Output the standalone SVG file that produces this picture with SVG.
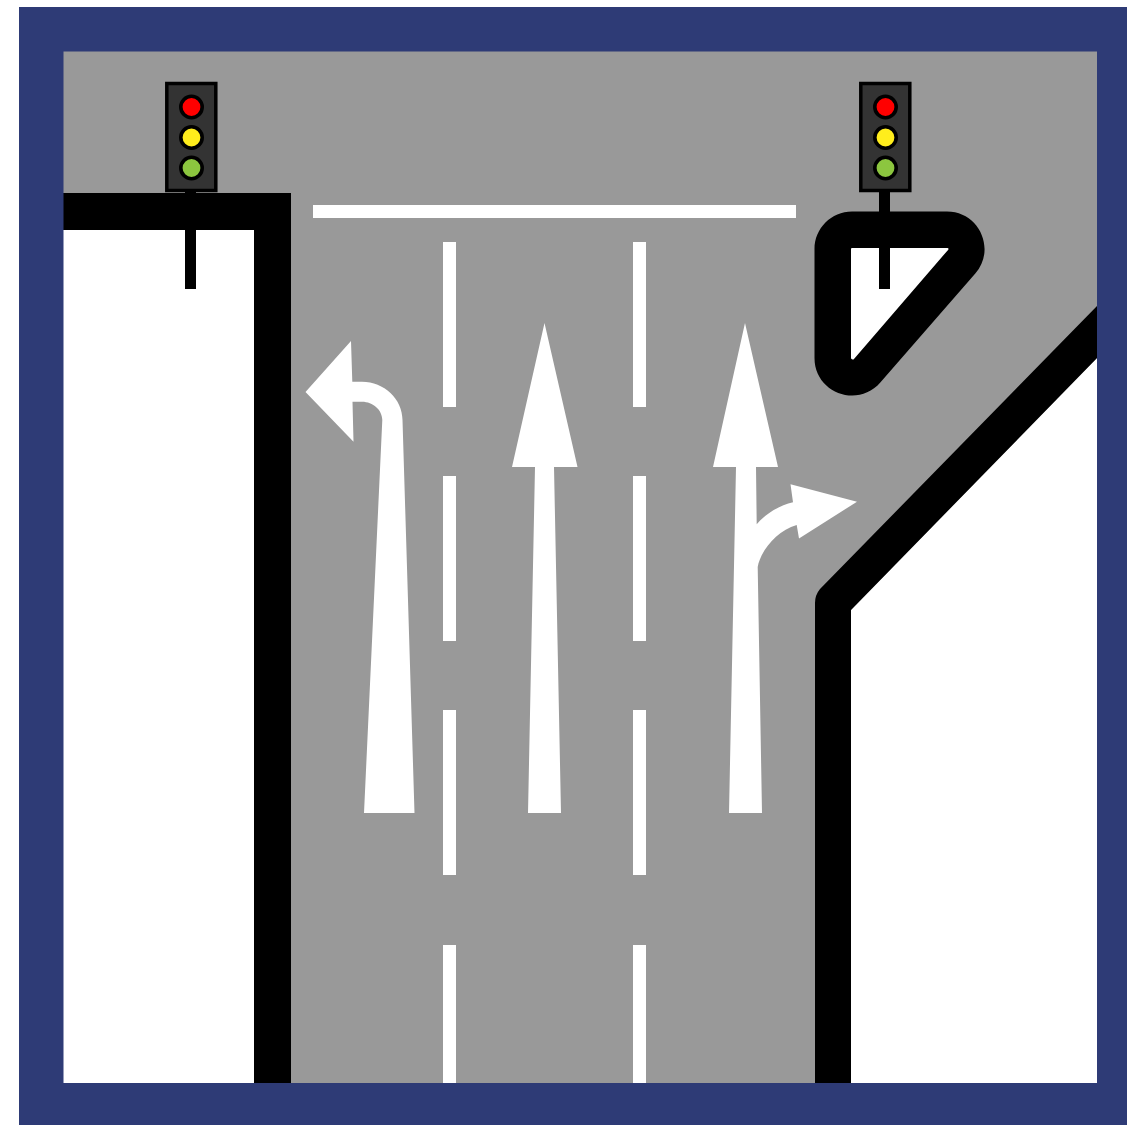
<svg xmlns="http://www.w3.org/2000/svg" width="1127" height="1125" viewBox="0 0 1127 1125">
<style>
.mark{fill:#fff}
.curb{fill:#000}
.box{fill:#333;stroke:#000;stroke-width:3.5}
.lamp{stroke:#000;stroke-width:3.6}
</style>
<defs>
<g id="signal">
<rect class="curb" x="-6" y="55" width="11" height="97"/>
<rect class="box" x="-24.200" y="-53.500" width="49" height="107"/>
<circle class="lamp" cx="0.500" cy="-30" r="10.700" fill="#ff0000"/>
<circle class="lamp" cx="0.500" cy="0.500" r="10.700" fill="#ffed1c"/>
<circle class="lamp" cx="0.500" cy="31" r="10.700" fill="#8cc63f"/>
</g>
</defs>
<rect id="road" x="19" y="7" width="1108" height="1118" fill="#999"/>
<g id="left-block">
<rect class="mark" x="63" y="193" width="228" height="890"/>
<path class="curb" d="M63 193H291V1083H254V230H63Z"/>
</g>
<g id="right-block">
<path class="mark" d="M851 610L1097 358V1083H851Z"/>
<path class="curb" d="M815 1083V603Q815 595 820 589L1097 306V358L851 610V1083Z"/>
</g>
<g id="island">
<path class="curb" d="M814.500 249C814.500 228.300 831.300 211.500 852 211.500H947C979.200 211.500 996.400 249.300 975.300 273.600L880.300 382.600C857.500 408.800 814.500 392.700 814.500 358Z"/>
<path class="mark" d="M852 249H947.500L853 358.500L852 358Z" stroke="#fff" stroke-width="2" stroke-linejoin="round"/>
</g>
<g id="frame">
<path fill="#2e3b76" fill-rule="evenodd" d="M19 7H1127V1125H19ZM63.500 51.500V1083H1097V51.500Z"/>
</g>
<g id="markings">
<rect class="mark" x="313" y="205" width="483" height="13"/>
<path class="mark" d="M443 242h13v165h-13zM443 476h13v165h-13zM443 710h13v165h-13zM443 945h13v138h-13zM633 242h13v165h-13zM633 476h13v165h-13zM633 710h13v165h-13zM633 945h13v138h-13z"/>
</g>
<g id="arrow-left">
<path class="mark" d="M364 813H414.500L402.500 420C402.500 399 384 381.700 362 381.700L352.300 381.700L351 341L305.500 392L353.500 441.700L352.500 401.700H362C373 401.700 382.300 410 382.300 420Z"/>
</g>
<g id="arrow-straight">
<path class="mark" d="M544.500 323L512 467H535L528 813H561L554 467H577.500Z"/>
</g>
<g id="arrow-straight-right">
<path class="mark" d="M745 323L713 467H736L729 813H762L757.700 567C760 552 776 531 796.700 525L799 538.500L857 501.700L790.500 484.300L793 502.300C780 505 765 514 756.700 524.300L756 467H778Z"/>
</g>
<g id="signal-left"><use href="#signal" x="191" y="137"/></g>
<g id="signal-right"><use href="#signal" x="885" y="137"/></g>
</svg>
